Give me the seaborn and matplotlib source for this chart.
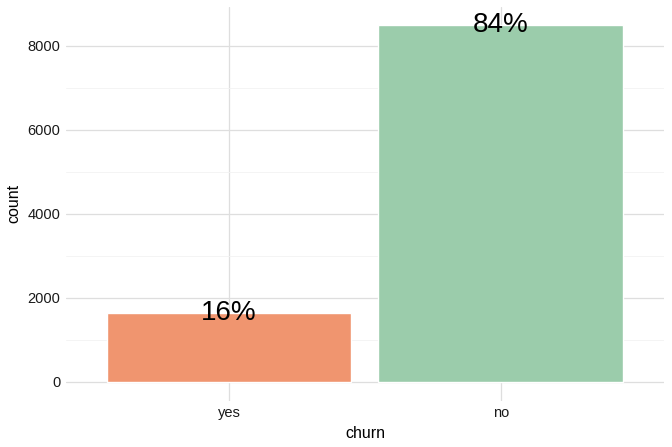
import matplotlib
matplotlib.use("Agg")
import matplotlib.pyplot as plt
import seaborn as sns
import pandas as pd

# Data
churn = ["yes", "no"]
counts = [1627, 8500]
bar_colors = ["#F0956F", "#9BCCAB"]

total = sum(counts)
pct_labels = [f"{round(100 * c / total)}%" for c in counts]

df = pd.DataFrame({"churn": churn, "count": counts})

sns.set_style("white")
plt.rcParams["font.family"] = ["Liberation Sans", "DejaVu Sans"]

fig = plt.figure(figsize=(6.72, 4.47), dpi=100)
ax = fig.add_axes([0.098, 0.104, 0.89, 0.88])

sns.barplot(data=df, x="churn", y="count", hue="churn", palette=bar_colors,
            width=0.9, saturation=1, legend=False, ax=ax, zorder=2)

for i, (c, lab) in enumerate(zip(counts, pct_labels)):
    ax.text(i, c, lab, ha="center", va="center", fontsize=20, color="black", zorder=3)

ymax = max(counts) * 1.05
ax.set_ylim(-0.05 * ymax, ymax)
ax.set_xlim(-0.6, 1.6)
ax.set_yticks([0, 2000, 4000, 6000, 8000])
ax.set_yticks([1000, 3000, 5000, 7000], minor=True)

ax.grid(True, which="major", axis="both", color="#dedede", linewidth=0.9, zorder=0)
ax.grid(True, which="minor", axis="y", color="#f2f2f2", linewidth=0.6, zorder=0)
ax.set_axisbelow(True)

for s in ax.spines.values():
    s.set_visible(False)
ax.tick_params(axis="both", which="both", length=0, labelsize=10.5, colors="#1a1a1a", pad=4)
ax.set_xlabel("churn", fontsize=11.5, color="black", labelpad=4)
ax.set_ylabel("count", fontsize=11.5, color="black", labelpad=4)

fig.savefig("out.png", dpi=100)
